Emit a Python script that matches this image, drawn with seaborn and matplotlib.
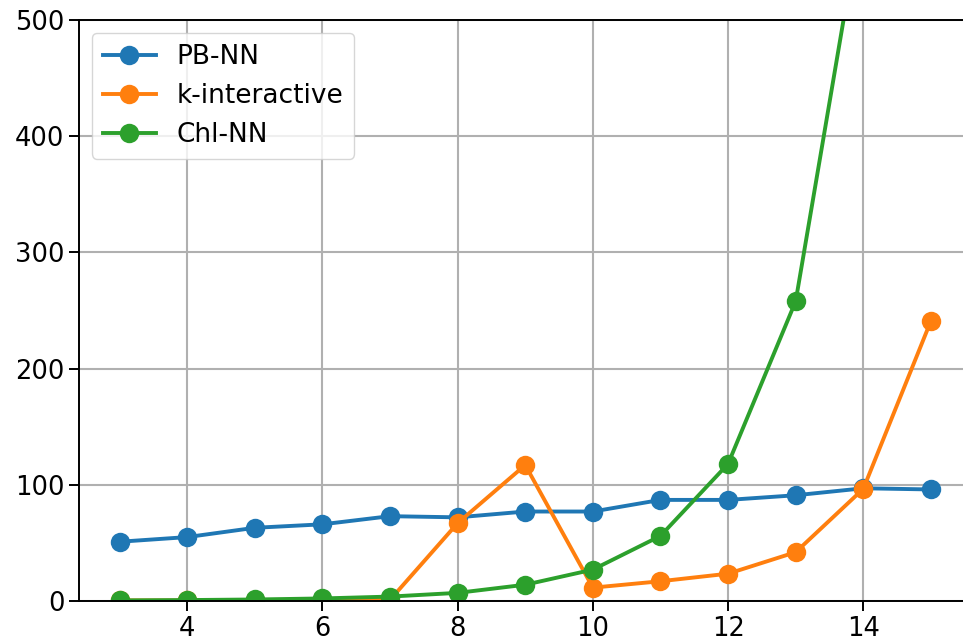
import numpy as np
import pandas as pd
import matplotlib
matplotlib.use("Agg")
import matplotlib.pyplot as plt
import seaborn as sns

# Problem size on the x axis
sizes = [3, 4, 5, 6, 7, 8, 9, 10, 11, 12, 13, 14, 15]

# Measured values per method
pb_nn = [51, 55, 63, 66, 73, 72, 77, 77, 87, 87, 91, 97, 96]
k_interactive = [0.5, 0.5, 0.5, 0.5, 1, 67, 117, 11.5, 17, 23.5, 42, 96.5, 241]
chl_nn = [0.5, 0.8, 1.3, 2.2, 3.8, 7, 14, 27, 56, 118, 258, 600, np.nan]

methods = ["PB-NN", "k-interactive", "Chl-NN"]
series = [pb_nn, k_interactive, chl_nn]

df = pd.concat(
    [pd.DataFrame({"size": sizes, "value": vals, "method": name})
     for name, vals in zip(methods, series)],
    ignore_index=True,
)

FS = 18.5
plt.rcParams.update({
    "font.family": ["DejaVu Sans"],
    "font.size": FS,
    "axes.linewidth": 1.4,
    "xtick.major.size": 7,
    "ytick.major.size": 7,
    "xtick.major.width": 1.4,
    "ytick.major.width": 1.4,
})

fig = plt.figure(figsize=(9.63, 6.4), dpi=100)
# the plotting area runs slightly past the right edge of the canvas
ax = fig.add_axes([79 / 963, 39 / 640, (985 - 79) / 963, 581 / 640])

palette = {"PB-NN": "#1f77b4", "k-interactive": "#ff7f0e", "Chl-NN": "#2ca02c"}
sns.lineplot(
    data=df, x="size", y="value", hue="method", hue_order=methods,
    palette=palette, marker="o", markersize=14, markeredgewidth=0,
    linewidth=2.8, ax=ax, errorbar=None, sort=False,
)

ax.set_xlim(2.4, 15.8)
ax.set_ylim(0, 500)
ax.set_xticks([4, 6, 8, 10, 12, 14])
ax.set_yticks([0, 100, 200, 300, 400, 500])
ax.set_xlabel("")
ax.set_ylabel("")
ax.spines["right"].set_visible(False)
ax.grid(True, color="#b0b0b0", linewidth=1.5)
ax.set_axisbelow(True)
ax.tick_params(labelsize=FS)

sns.move_legend(ax, "upper left", title=None, fontsize=19,
                frameon=True, borderaxespad=0.5)

fig.savefig("out.png", dpi=100)
